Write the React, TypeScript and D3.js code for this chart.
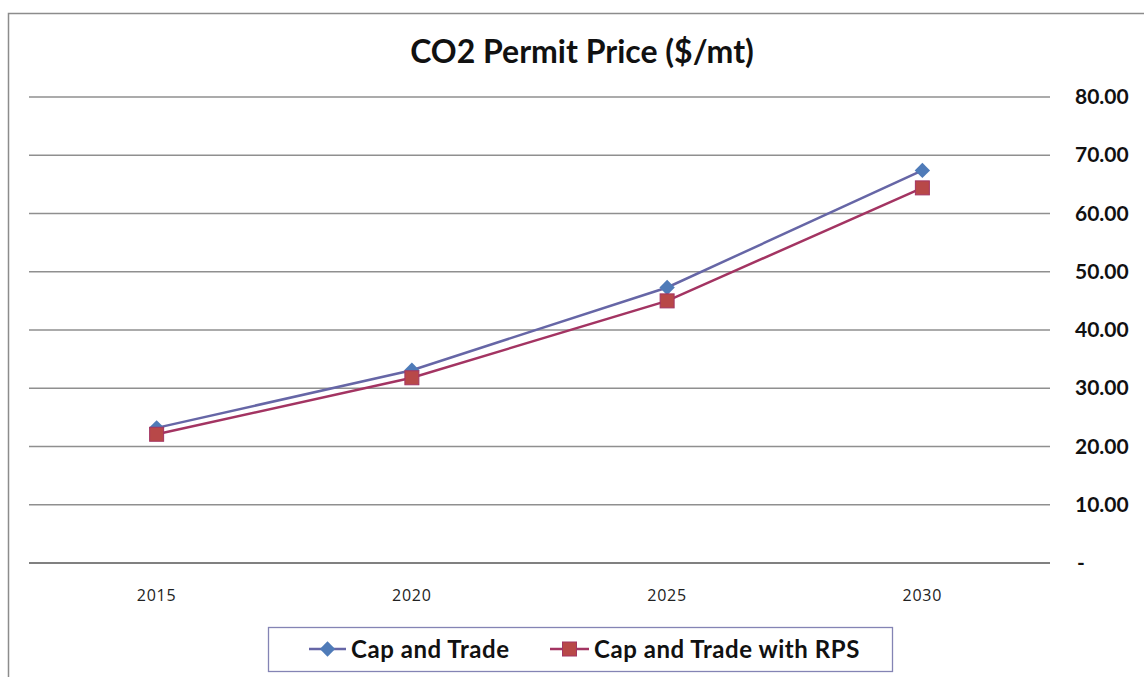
import React, { useEffect, useRef } from 'react'
import * as d3 from 'd3'

const years = ['2015', '2020', '2025', '2030']
const capTrade = [23.2, 33.1, 47.3, 67.4]
const capTradeRps = [22.1, 31.8, 45.0, 64.4]
const yTicks = [0, 10, 20, 30, 40, 50, 60, 70, 80]
const seriesNames = ['Cap and Trade', 'Cap and Trade with RPS']

const W = 1144
const H = 677

export default function App() {
    const ref = useRef<SVGSVGElement>(null)

    useEffect(() => {
        const svg = d3.select(ref.current)
        svg.selectAll('*').remove()

        const font = 'Lato, "Open Sans", sans-serif'
        const left = 29, right = 1050, top = 97, bottom = 563

        // outer chart border
        svg.append('rect')
            .attr('x', 8.5).attr('y', 13.5)
            .attr('width', 1145).attr('height', 680)
            .attr('fill', '#fff')
            .attr('stroke', '#8c8c8c')
            .attr('stroke-width', 1.5)

        const x = d3.scalePoint<string>().domain(years).range([left, right]).padding(0.5)
        const y = d3.scaleLinear().domain([0, 80]).range([bottom, top])

        // gridlines
        svg.append('g')
            .selectAll('line')
            .data(yTicks)
            .enter().append('line')
            .attr('x1', left).attr('x2', right)
            .attr('y1', d => y(d)).attr('y2', d => y(d))
            .attr('stroke', d => d === 0 ? '#808080' : '#8f8f8f')
            .attr('stroke-width', d => d === 0 ? 2 : 1.3)

        // y tick labels on the right
        svg.append('g')
            .selectAll('text')
            .data(yTicks)
            .enter().append('text')
            .attr('x', d => d === 0 ? 1077 : 1075)
            .attr('y', d => y(d) + 7)
            .style('font-family', font)
            .style('font-size', '21px')
            .style('font-weight', 'bold')
            .attr('fill', '#111')
            .text(d => d === 0 ? '-' : d3.format('.2f')(d))

        // x labels
        svg.append('g')
            .selectAll('text')
            .data(years)
            .enter().append('text')
            .attr('x', d => x(d)!)
            .attr('y', 601)
            .attr('text-anchor', 'middle')
            .style('font-family', '"Open Sans", sans-serif')
            .style('font-size', '16px')
            .style('letter-spacing', '0.8px')
            .attr('fill', '#222')
            .text(d => d)

        // title
        svg.append('text')
            .attr('x', 582).attr('y', 63)
            .attr('text-anchor', 'middle')
            .style('font-family', font)
            .style('font-size', '32px')
            .style('font-weight', 'bold')
            .attr('fill', '#111')
            .text('CO2 Permit Price ($/mt)')

        const line = d3.line<number>()
            .x((d, i) => x(years[i])!)
            .y(d => y(d))

        const colors = [
            { line: '#6666a6', fill: '#4f7bb8', stroke: '#4f7bb8' },
            { line: '#a33462', fill: '#b84848', stroke: '#a33462' },
        ]

        const diamond = d3.symbol().type(d3.symbolDiamond2).size(150)

        ;[capTrade, capTradeRps].forEach((vals, s) => {
            svg.append('path')
                .datum(vals)
                .attr('fill', 'none')
                .attr('stroke', colors[s].line)
                .attr('stroke-width', 2.5)
                .attr('d', line)
        })

        // markers
        svg.append('g')
            .selectAll('path')
            .data(capTrade)
            .enter().append('path')
            .attr('d', diamond)
            .attr('transform', (d, i) => `translate(${x(years[i])},${y(d)})`)
            .attr('fill', colors[0].fill)

        svg.append('g')
            .selectAll('rect')
            .data(capTradeRps)
            .enter().append('rect')
            .attr('x', (d, i) => x(years[i])! - 7)
            .attr('y', d => y(d) - 7)
            .attr('width', 14).attr('height', 14)
            .attr('fill', colors[1].fill)
            .attr('stroke', colors[1].stroke)
            .attr('stroke-width', 1)

        // legend
        const lg = svg.append('g')
        lg.append('rect')
            .attr('x', 268.5).attr('y', 627.5)
            .attr('width', 624).attr('height', 44)
            .attr('fill', '#fff')
            .attr('stroke', '#8484b4')
            .attr('stroke-width', 1.3)

        const items = [
            { x1: 309, x2: 346, tx: 351 },
            { x1: 550, x2: 589, tx: 594 },
        ]
        items.forEach((it, s) => {
            const cx = (it.x1 + it.x2) / 2
            lg.append('line')
                .attr('x1', it.x1).attr('x2', it.x2)
                .attr('y1', 649).attr('y2', 649)
                .attr('stroke', colors[s].line)
                .attr('stroke-width', 2.5)
            if (s === 0) {
                lg.append('path')
                    .attr('d', diamond)
                    .attr('transform', `translate(${cx},649)`)
                    .attr('fill', colors[0].fill)
            } else {
                lg.append('rect')
                    .attr('x', cx - 7).attr('y', 642)
                    .attr('width', 14).attr('height', 14)
                    .attr('fill', colors[1].fill)
                    .attr('stroke', colors[1].stroke)
            }
            lg.append('text')
                .attr('x', it.tx).attr('y', 658)
                .style('font-family', font)
                .style('font-size', '24px')
                .style('font-weight', 'bold')
                .style('letter-spacing', '0.55px')
                .attr('fill', '#111')
                .text(seriesNames[s])
        })
    }, [])

    return (
        <div style={{ position: 'absolute', left: 0, top: 0 }}>
            <svg ref={ref} width={W} height={H} style={{ display: 'block' }} />
        </div>
    )
}
